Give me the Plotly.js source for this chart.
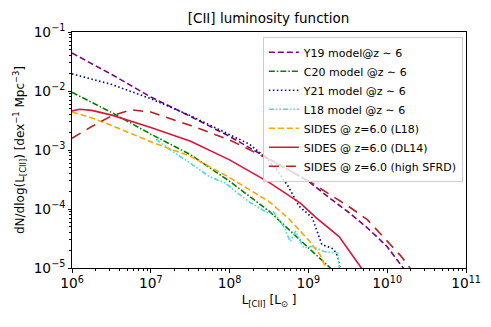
<!DOCTYPE html>
<html>
<head>
<meta charset="utf-8">
<script src="https://cdn.plot.ly/plotly-3.0.1.min.js"></script>
<style>
  html, body { margin: 0; padding: 0; background: #fff; }
  #chart { width: 491px; height: 327px; }
</style>
</head>
<body>
<div id="chart"></div>
<script>
// values (L in Lsun, phi in dex^-1 Mpc^-3)
var y19_L   = [1e6, 3.2e6, 1e7, 3.2e7, 1e8, 3.2e8, 1e9, 1.9e9, 3.2e9, 5.6e9, 1e10, 1.55e10, 2e10];
var y19_phi = [4.4e-2, 1.9e-2, 7.9e-3, 3.7e-3, 1.7e-3, 7.1e-4, 2.95e-4, 1.5e-4, 8.9e-5, 4.8e-5, 2.3e-5, 1.05e-5, 7e-6];

var c20_L   = [1e6, 3.2e6, 1e7, 3.2e7, 1e8, 3.2e8, 1e9, 1.9e9, 2.2e9];
var c20_phi = [9.5e-3, 4.3e-3, 1.86e-3, 8.3e-4, 2.95e-4, 9.1e-5, 2.2e-5, 1.0e-5, 7.9e-6];

var y21_L   = [1e6, 3.2e6, 1e7, 3.2e7, 1e8, 1.78e8, 2.82e8, 3.98e8, 5.62e8, 7.6e8, 1.12e9, 1.32e9, 1.48e9, 2.09e9, 2.34e9, 2.57e9];
var y21_phi = [1.95e-2, 1.29e-2, 7.4e-3, 3.8e-3, 1.82e-3, 1.26e-3, 7.6e-4, 4.6e-4, 2.34e-4, 1.12e-4, 7.1e-5, 3.8e-5, 2.5e-5, 2.1e-5, 1.6e-5, 8.9e-6];

var l18_L   = [1.17e7, 1.78e7, 3.16e7, 5.6e7, 8.9e7, 1.26e8, 1.78e8, 2.5e8, 3.16e8, 3.6e8, 4.8e8, 5.9e8, 6.9e8, 8.7e8, 1.12e9, 1.58e9, 2.34e9, 2.5e9];
var l18_phi = [1.51e-3, 1.0e-3, 6.0e-4, 3.5e-4, 2.75e-4, 1.86e-4, 1.32e-4, 1.0e-4, 8.3e-5, 8.9e-5, 5.2e-5, 2.8e-5, 4.2e-5, 2.2e-5, 2.34e-5, 1.9e-5, 1.78e-5, 8.9e-6];

var sidesL18_L   = [1e6, 1.78e6, 3.2e6, 1e7, 3.2e7, 1e8, 3.2e8, 5.6e8, 1e9, 1.41e9, 1.66e9, 1.82e9];
var sidesL18_phi = [4.4e-3, 3.5e-3, 2.6e-3, 1.38e-3, 7.8e-4, 3.4e-4, 1.32e-4, 6.9e-5, 3.0e-5, 1.66e-5, 1.0e-5, 7.9e-6];

var dl14_L   = [1e6, 1.26e6, 1.78e6, 3.2e6, 1e7, 3.2e7, 1e8, 3.2e8, 7.9e8, 1.26e9, 2.45e9, 3.55e9, 4.7e9, 5.2e9];
var dl14_phi = [4.6e-3, 4.9e-3, 4.7e-3, 3.9e-3, 2.4e-3, 1.41e-3, 6.8e-4, 2.8e-4, 1.26e-4, 7.1e-5, 3.4e-5, 1.74e-5, 1.0e-5, 7.9e-6];

var high_L   = [1e6, 1.78e6, 3.2e6, 5.6e6, 1e7, 3.2e7, 1e8, 3.2e8, 1e9, 3.2e9, 5.6e9, 1e10, 1.48e10, 1.9e10, 2.15e10];
var high_phi = [1.58e-3, 2.5e-3, 3.8e-3, 4.8e-3, 4.4e-3, 2.6e-3, 1.48e-3, 6.9e-4, 3.0e-4, 1.12e-4, 6.6e-5, 2.8e-5, 1.62e-5, 1.05e-5, 7.9e-6];

var names = [
  'Y19 model@z \u223c 6',
  'C20 model @z \u223c 6',
  'Y21 model @z \u223c 6',
  'L18 model @z \u223c 6',
  'SIDES @ z=6.0 (L18)',
  'SIDES @ z=6.0 (DL14)',
  'SIDES @ z=6.0 (high SFRD)'
];

function line(x, y, name, color, dash) {
  return {
    x: x, y: y, name: name, mode: 'lines', type: 'scatter',
    line: {color: color, width: 1.6, dash: dash}
  };
}

var data = [
  line(y19_L, y19_phi, names[0], '#800080', '6px,3px'),
  line(c20_L, c20_phi, names[1], '#008000', '6px,2px,1.5px,2px'),
  line(y21_L, y21_phi, names[2], '#00008b', '1.5px,2.5px'),
  line(l18_L, l18_phi, names[3], '#40e0d0', '5px,2px,1.5px,2px,1.5px,2px'),
  line(sidesL18_L, sidesL18_phi, names[4], '#ffa500', '6px,3px'),
  line(dl14_L, dl14_phi, names[5], '#dc143c', 'solid'),
  line(high_L, high_phi, names[6], '#b22222', '10px,7px')
];

var tickFont = {family: 'DejaVu Sans', size: 11, color: '#000'};
var labFont = {family: 'DejaVu Sans', size: 12, color: '#000'};

var layout = {
  width: 491, height: 327,
  margin: {l: 72, r: 25, t: 32, b: 59},
  paper_bgcolor: '#fff', plot_bgcolor: '#fff',
  font: {family: 'DejaVu Sans', size: 11, color: '#000'},
  title: {text: '[CII] luminosity function', font: {family: 'DejaVu Sans', size: 13.5, color: '#000'},
          x: 0.547, xanchor: 'center', y: 0.945, yanchor: 'middle'},
  showlegend: true,
  legend: {
    x: 0.992, xanchor: 'right', y: 0.98, yanchor: 'top',
    bgcolor: 'rgba(255,255,255,0.8)', bordercolor: '#cccccc', borderwidth: 1,
    font: {family: 'DejaVu Sans', size: 11, color: '#000'},
    tracegroupgap: 0, itemwidth: 30
  },
  xaxis: {
    type: 'log', range: [6, 11], dtick: 1, exponentformat: 'power', showexponent: 'all',
    showgrid: false, zeroline: false, showline: true, linecolor: '#000', linewidth: 1, mirror: true,
    ticks: 'outside', ticklen: 3.5, tickcolor: '#000', tickfont: tickFont,
    minor: {ticks: 'outside', ticklen: 2, tickcolor: '#000', showgrid: false},
    title: {text: 'L<sub>[CII]</sub> [L<sub>\u2299</sub> ]', font: labFont, standoff: 5}
  },
  yaxis: {
    type: 'log', range: [-5, -1], dtick: 1, exponentformat: 'power', showexponent: 'all',
    showgrid: false, zeroline: false, showline: true, linecolor: '#000', linewidth: 1, mirror: true,
    ticks: 'outside', ticklen: 3.5, tickcolor: '#000', tickfont: tickFont,
    minor: {ticks: 'outside', ticklen: 2, tickcolor: '#000', showgrid: false},
    title: {text: 'dN/dlog(L<sub>[CII]</sub>) [dex<sup>\u22121</sup> Mpc<sup>\u22123</sup>]', font: labFont, standoff: 6}
  }
};

Plotly.newPlot('chart', data, layout, {displayModeBar: false, staticPlot: true});
</script>
</body>
</html>
